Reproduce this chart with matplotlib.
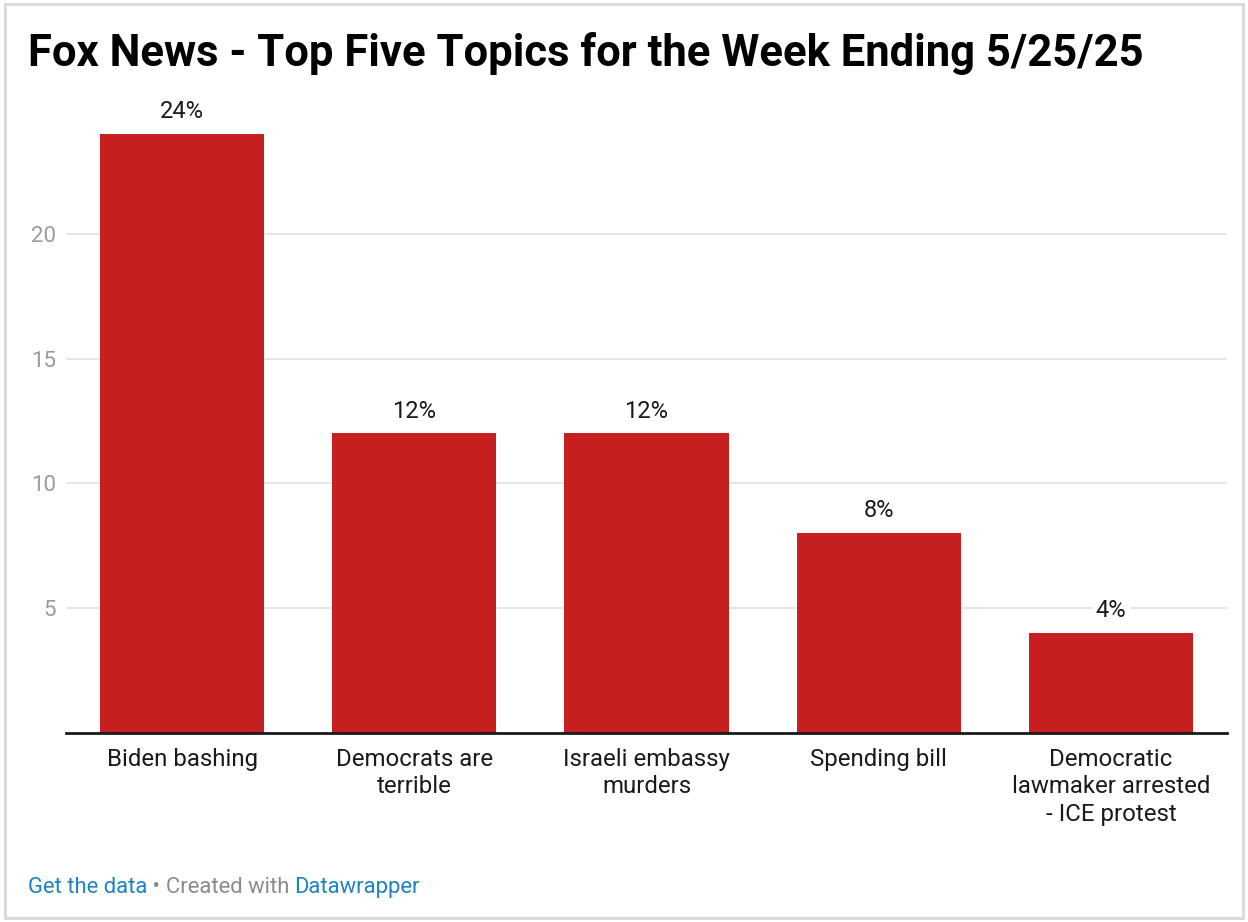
import matplotlib
matplotlib.use("Agg")
import matplotlib.pyplot as plt
from matplotlib.patches import Rectangle

plt.rcParams["font.family"] = ["Roboto", "DejaVu Sans"]

categories = [
    "Biden bashing",
    "Democrats are\nterrible",
    "Israeli embassy\nmurders",
    "Spending bill",
    "Democratic\nlawmaker arrested\n- ICE protest",
]
shares = [24, 12, 12, 8, 4]
y_ticks = [5, 10, 15, 20]

title = "Fox News - Top Five Topics for the Week Ending 5/25/25"
bar_color = "#c51f1f"
link_color = "#1f82c4"
muted = "#8a8a8a"

W, H = 1248, 922
fig = plt.figure(figsize=(W / 100, H / 100), dpi=100)

# axes box in pixel terms: left 66, right 1227, baseline 733, top 109 (=25)
ax = fig.add_axes([66 / W, (H - 733) / H, (1227 - 66) / W, (733 - 109) / H])

x = list(range(len(categories)))
ax.bar(x, shares, width=0.707, color=bar_color, zorder=2)

ax.set_xlim(-0.5, 4.5)
ax.set_ylim(0, 25)

ax.set_yticks(y_ticks)
ax.set_yticklabels([str(t) for t in y_ticks], fontsize=16, color="#9a9a9a")
ax.tick_params(axis="y", length=0, pad=7)
ax.grid(axis="y", color="#e3e3e3", linewidth=1.3, zorder=0)

ax.set_xticks(x)
ax.set_xticklabels(categories, fontsize=17.3, color="#1a1a1a", linespacing=1.27)
ax.tick_params(axis="x", length=0, pad=10.5)

for s in ["top", "right", "left"]:
    ax.spines[s].set_visible(False)
ax.spines["bottom"].set_color("#1a1a1a")
ax.spines["bottom"].set_linewidth(2)
ax.spines["bottom"].set_zorder(3)

for xi, v in zip(x, shares):
    ax.annotate(
        f"{v}%", (xi, v), xytext=(0, 11.5), textcoords="offset points",
        ha="center", va="baseline", fontsize=17, color="#1a1a1a",
        bbox=dict(boxstyle="square,pad=0.15", fc="white", ec="none"),
        zorder=4,
    )

fig.text(28 / W, 1 - 66 / H, title, fontsize=31.4, fontweight="bold",
         color="black", ha="left", va="baseline")

# footer: pieces laid out one after another
renderer = fig.canvas.get_renderer()
pieces = [("Get the data", link_color), (" \u2022 ", muted),
          ("Created with ", muted), ("Datawrapper", link_color)]
px = 28
for txt, col in pieces:
    t = fig.text(px / W, 1 - 893 / H, txt, fontsize=15.8, color=col,
                 ha="left", va="baseline")
    px += t.get_window_extent(renderer).width

fig.patches.append(Rectangle((5 / W, 4 / H), (1243 - 5) / W, (918 - 4) / H,
                             transform=fig.transFigure, fill=False,
                             edgecolor="#d8d8d8", linewidth=2))

fig.savefig("out.png", dpi=100)
